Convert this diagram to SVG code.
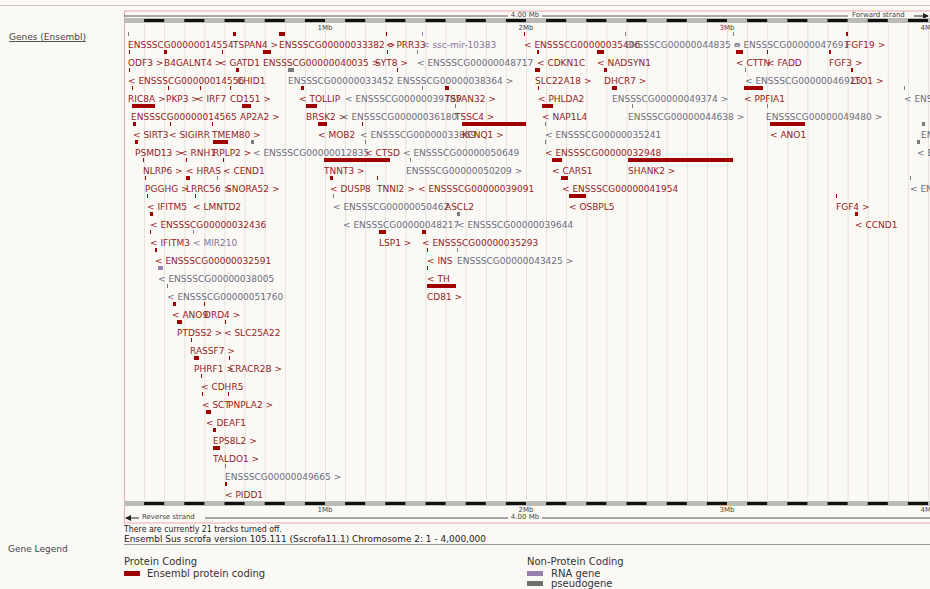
<svg xmlns="http://www.w3.org/2000/svg" width="930" height="589" viewBox="0 0 930 589">
<defs>
<style>
text{font-family:"DejaVu Sans","Liberation Sans",sans-serif;font-size:9px}
.p{fill:#952222}.n{fill:#6c6c7c}.r{fill:#857399}
.fp{fill:#a00000}.fn{fill:#7a7a7a}.fr{fill:#9a80b0}
.sm{font-size:7px;fill:#444}
.lg{font-size:10px;fill:#333}
.ft{font-size:8.5px;fill:#222}
</style>
<pattern id="grid" x="124" y="0" width="20.1" height="20" patternUnits="userSpaceOnUse">
<rect x="0" y="0" width="0.8" height="20" fill="#e1ddd7"/>
</pattern>
<marker id="ar" markerWidth="6" markerHeight="6" refX="5" refY="3" orient="auto" markerUnits="userSpaceOnUse">
<path d="M0,0 L6,3 L0,6 z" fill="#222"/>
</marker>
</defs>
<rect x="0" y="0" width="930" height="589" fill="#fbf9f5"/>
<line x1="0" y1="5.5" x2="930" y2="5.5" stroke="#c9c6c2" stroke-width="1"/>
<text x="9" y="40" font-size="9.5px" fill="#444" text-decoration="underline">Genes (Ensembl)</text>

<g id="panel">
<rect x="124" y="24" width="806" height="476" fill="url(#grid)"/>
<line x1="124" y1="11" x2="930" y2="11" stroke="#eaa9ad" stroke-width="1"/>
<line x1="124.5" y1="11" x2="124.5" y2="523" stroke="#eaa9ad" stroke-width="1"/>
<line x1="124" y1="523" x2="930" y2="523" stroke="#eaa9ad" stroke-width="1"/>
</g>

<g id="ruler-top">
<line x1="124" y1="16" x2="508" y2="16" stroke="#555" stroke-width="1"/>
<text x="525" y="17" class="sm" text-anchor="middle">4.00 Mb</text>
<line x1="542" y1="16" x2="848" y2="16" stroke="#555" stroke-width="1"/>
<text x="852" y="17" class="sm">Forward strand</text>
<line x1="914" y1="16" x2="928" y2="16" stroke="#222" stroke-width="1" marker-end="url(#ar)"/>
<rect x="124" y="18" width="806" height="5" fill="#bdbbb8"/>
<line x1="124" y1="20.5" x2="930" y2="20.5" stroke="#111" stroke-width="3" stroke-dasharray="20.1" stroke-dashoffset="20.1"/>
<text x="325" y="30" class="sm" text-anchor="middle">1Mb</text>
<text x="526" y="30" class="sm" text-anchor="middle">2Mb</text>
<text x="727" y="30" class="sm" text-anchor="middle">3Mb</text>
<text x="928" y="30" class="sm" text-anchor="middle">4Mb</text>
</g>

<g id="features">
<!-- row 0 m=32 -->
<rect class="fn" x="128" y="32" width="1" height="4"/><rect class="fp" x="233" y="32" width="3" height="4"/><rect class="fp" x="279" y="32" width="6" height="4"/><rect class="fp" x="386" y="32" width="1" height="4"/><rect class="fr" x="422" y="32" width="1" height="4"/><rect class="fp" x="524" y="32" width="1" height="4"/><rect class="fn" x="625" y="32" width="1" height="4"/><rect class="fn" x="733" y="32" width="1" height="4"/><rect class="fp" x="846" y="32" width="2" height="4"/>
<!-- row 1 m=50 -->
<rect class="fp" x="129" y="50" width="1" height="4"/><rect class="fp" x="164" y="50" width="3" height="4"/><rect class="fp" x="222" y="50" width="1" height="4"/><rect class="fp" x="263" y="50" width="8" height="4"/><rect class="fp" x="387" y="50" width="1" height="4"/><rect class="fn" x="417" y="50" width="1" height="4"/><rect class="fp" x="537" y="50" width="2" height="4"/><rect class="fp" x="597" y="50" width="7" height="4"/><rect class="fp" x="736" y="50" width="7" height="4"/><rect class="fp" x="767" y="50" width="1" height="4"/><rect class="fp" x="829" y="50" width="2" height="4"/>
<!-- row 2 m=68 -->
<rect class="fp" x="129" y="68" width="1" height="4"/><rect class="fp" x="236" y="68" width="3" height="4"/><rect class="fn" x="288" y="68" width="6" height="4"/><rect class="fp" x="397" y="68" width="1" height="4"/><rect class="fp" x="535" y="68" width="5" height="4"/><rect class="fp" x="604" y="68" width="3" height="4"/><rect class="fn" x="745" y="68" width="1" height="4"/><rect class="fp" x="851" y="68" width="2" height="4"/>
<!-- row 3 m=86 -->
<rect class="fp" x="132" y="86" width="1" height="4"/><rect class="fp" x="168" y="86" width="1" height="4"/><rect class="fp" x="200" y="86" width="1" height="4"/><rect class="fp" x="230" y="86" width="1" height="4"/><rect class="fp" x="301" y="86" width="3" height="4"/><rect class="fn" x="422" y="86" width="1" height="4"/><rect class="fp" x="445" y="86" width="4" height="4"/><rect class="fp" x="538" y="86" width="1" height="4"/><rect class="fp" x="612" y="86" width="5" height="4"/><rect class="fp" x="744" y="86" width="19" height="4"/><rect class="fn" x="904" y="86" width="1" height="4"/>
<!-- row 4 m=104 -->
<rect class="fp" x="132" y="104" width="23" height="4"/><rect class="fp" x="242" y="104" width="9" height="4"/><rect class="fp" x="306" y="104" width="11" height="4"/><rect class="fn" x="455" y="104" width="1" height="4"/><rect class="fp" x="542" y="104" width="11" height="4"/><rect class="fn" x="632" y="104" width="1" height="4"/><rect class="fn" x="767" y="104" width="1" height="4"/>
<!-- row 5 m=122 -->
<rect class="fp" x="133" y="122" width="3" height="4"/><rect class="fp" x="170" y="122" width="1" height="4"/><rect class="fp" x="212" y="122" width="1" height="4"/><rect class="fp" x="318" y="122" width="9" height="4"/><rect class="fp" x="362" y="122" width="1" height="4"/><rect class="fp" x="462" y="122" width="64" height="4"/><rect class="fn" x="545" y="122" width="1" height="4"/><rect class="fp" x="770" y="122" width="35" height="4"/><rect class="fn" x="922" y="122" width="3" height="4"/>
<!-- row 6 m=140 -->
<rect class="fp" x="135" y="140" width="3" height="4"/><rect class="fp" x="213" y="140" width="15" height="4"/><rect class="fn" x="251" y="140" width="3" height="4"/><rect class="fn" x="365" y="140" width="1" height="4"/><rect class="fn" x="545" y="140" width="1" height="4"/><rect class="fn" x="917" y="140" width="3" height="4"/>
<!-- row 7 m=158 -->
<rect class="fp" x="143" y="158" width="1" height="4"/><rect class="fp" x="186" y="158" width="1" height="4"/><rect class="fp" x="223" y="158" width="1" height="4"/><rect class="fp" x="324" y="158" width="66" height="4"/><rect class="fn" x="410" y="158" width="1" height="4"/><rect class="fp" x="552" y="158" width="10" height="4"/><rect class="fp" x="628" y="158" width="105" height="4"/>
<!-- row 8 m=176 -->
<rect class="fp" x="145" y="176" width="1" height="4"/><rect class="fp" x="186" y="176" width="4" height="4"/><rect class="fn" x="217" y="176" width="1" height="4"/><rect class="fp" x="330" y="176" width="3" height="4"/><rect class="fp" x="377" y="176" width="1" height="4"/><rect class="fp" x="561" y="176" width="7" height="4"/><rect class="fn" x="910" y="176" width="1" height="4"/>
<!-- row 9 m=194 -->
<rect class="fp" x="147" y="194" width="1" height="4"/><rect class="fp" x="195" y="194" width="1" height="4"/><rect class="fn" x="333" y="194" width="1" height="4"/><rect class="fp" x="569" y="194" width="17" height="4"/><rect class="fp" x="836" y="194" width="1" height="4"/>
<!-- row 10 m=212 -->
<rect class="fp" x="150" y="212" width="3" height="4"/><rect class="fn" x="457" y="212" width="3" height="4"/><rect class="fp" x="855" y="212" width="3" height="4"/>
<!-- row 11 m=230 -->
<rect class="fp" x="150" y="230" width="1" height="4"/><rect class="fr" x="193" y="230" width="1" height="4"/><rect class="fp" x="379" y="230" width="7" height="4"/><rect class="fp" x="422" y="230" width="4" height="4"/>
<!-- row 12 m=248 -->
<rect class="fp" x="155" y="248" width="2" height="4"/><rect class="fp" x="427" y="248" width="1" height="4"/><rect class="fn" x="457" y="248" width="1" height="4"/>
<!-- row 13 m=266 -->
<rect class="fr" x="158" y="266" width="5" height="4"/><rect class="fp" x="427" y="266" width="1" height="4"/>
<!-- row 14 m=284 -->
<rect class="fn" x="167" y="284" width="1" height="4"/><rect class="fp" x="427" y="284" width="29" height="4"/>
<!-- rows 15-25 -->
<rect class="fp" x="173" y="302" width="3" height="4"/><rect class="fp" x="204" y="302" width="1" height="4"/>
<rect class="fp" x="177" y="320" width="5" height="4"/><rect class="fp" x="225" y="320" width="1" height="4"/>
<rect class="fp" x="191" y="338" width="1" height="4"/>
<rect class="fp" x="194" y="356" width="5" height="4"/><rect class="fp" x="229" y="356" width="1" height="4"/>
<rect class="fp" x="201" y="374" width="1" height="4"/>
<rect class="fp" x="202" y="392" width="1" height="4"/><rect class="fp" x="228" y="392" width="1" height="4"/>
<rect class="fp" x="206" y="410" width="5" height="4"/>
<rect class="fp" x="213" y="428" width="3" height="4"/>
<rect class="fp" x="213" y="446" width="7" height="4"/>
<rect class="fn" x="225" y="464" width="1" height="4"/>
<rect class="fp" x="225" y="482" width="2" height="4"/>
</g>

<g id="labels">
<text x="128" y="48" class="p">ENSSSCG00000014554</text><text x="233" y="48" class="p">TSPAN4 &gt;</text><text x="279" y="48" class="p">ENSSSCG00000033382 &gt;</text><text x="386" y="48" class="p">&lt; PRR33</text><text x="422" y="48" class="r">&lt; ssc-mir-10383</text><text x="524" y="48" class="p">&lt; ENSSSCG00000035406</text><text x="625" y="48" class="n">ENSSSCG00000044835 &gt;</text><text x="733" y="48" class="n">&lt; ENSSSCG00000047691</text><text x="846" y="48" class="p">FGF19 &gt;</text>

<text x="128" y="66" class="p">ODF3 &gt;</text><text x="164" y="66" class="p">B4GALNT4 &gt;</text><text x="219" y="66" class="p">&lt; GATD1</text><text x="263" y="66" class="p">ENSSSCG00000040035 &gt;</text><text x="375" y="66" class="p">SYT8 &gt;</text><text x="417" y="66" class="n">&lt; ENSSSCG00000048717</text><text x="537" y="66" class="p">&lt; CDKN1C</text><text x="597" y="66" class="p">&lt; NADSYN1</text><text x="736" y="66" class="p">&lt; CTTN</text><text x="767" y="66" class="p">&lt; FADD</text><text x="829" y="66" class="p">FGF3 &gt;</text>

<text x="128" y="84" class="p">&lt; ENSSSCG00000014556</text><text x="237" y="84" class="p">CHID1</text><text x="288" y="84" class="n">ENSSSCG00000033452</text><text x="397" y="84" class="n">ENSSSCG00000038364 &gt;</text><text x="535" y="84" class="p">SLC22A18 &gt;</text><text x="604" y="84" class="p">DHCR7 &gt;</text><text x="745" y="84" class="n">&lt; ENSSSCG00000046925</text><text x="851" y="84" class="p">LTO1 &gt;</text>

<text x="128" y="102" class="p">RIC8A &gt;</text><text x="166" y="102" class="p">PKP3 &gt;</text><text x="196" y="102" class="p">&lt; IRF7</text><text x="230" y="102" class="p">CD151 &gt;</text><text x="299" y="102" class="p">&lt; TOLLIP</text><text x="345" y="102" class="n">&lt; ENSSSCG00000039785</text><text x="445" y="102" class="p">TSPAN32 &gt;</text><text x="538" y="102" class="p">&lt; PHLDA2</text><text x="612" y="102" class="n">ENSSSCG00000049374 &gt;</text><text x="744" y="102" class="p">&lt; PPFIA1</text><text x="904" y="102" class="n">&lt; ENSSSCG00000</text>

<text x="131" y="120" class="p">ENSSSCG00000014565</text><text x="240" y="120" class="p">AP2A2 &gt;</text><text x="306" y="120" class="p">BRSK2 &gt;</text><text x="341" y="120" class="n">&lt; ENSSSCG00000036180</text><text x="455" y="120" class="p">TSSC4 &gt;</text><text x="542" y="120" class="p">&lt; NAP1L4</text><text x="628" y="120" class="n">ENSSSCG00000044638 &gt;</text><text x="766" y="120" class="n">ENSSSCG00000049480 &gt;</text>

<text x="133" y="138" class="p">&lt; SIRT3</text><text x="169" y="138" class="p">&lt; SIGIRR</text><text x="212" y="138" class="p">TMEM80 &gt;</text><text x="318" y="138" class="p">&lt; MOB2</text><text x="360" y="138" class="n">&lt; ENSSSCG00000033869</text><text x="462" y="138" class="p">KCNQ1 &gt;</text><text x="545" y="138" class="n">&lt; ENSSSCG00000035241</text><text x="770" y="138" class="p">&lt; ANO1</text><text x="921" y="138" class="n">ENSSSCG</text>

<text x="135" y="156" class="p">PSMD13 &gt;</text><text x="180" y="156" class="p">&lt; RNH1</text><text x="213" y="156" class="p">RPLP2 &gt;</text><text x="253" y="156" class="n">&lt; ENSSSCG00000012835</text><text x="365" y="156" class="p">&lt; CTSD</text><text x="403" y="156" class="n">&lt; ENSSSCG00000050649</text><text x="545" y="156" class="p">&lt; ENSSSCG00000032948</text><text x="917" y="156" class="n">&lt; ENSSSCG</text>

<text x="143" y="174" class="p">NLRP6 &gt;</text><text x="186" y="174" class="p">&lt; HRAS</text><text x="223" y="174" class="p">&lt; CEND1</text><text x="324" y="174" class="p">TNNT3 &gt;</text><text x="406" y="174" class="n">ENSSSCG00000050209 &gt;</text><text x="552" y="174" class="p">&lt; CARS1</text><text x="628" y="174" class="p">SHANK2 &gt;</text>

<text x="145" y="192" class="p">PGGHG &gt;</text><text x="186" y="192" class="p">LRRC56 &gt;</text><text x="226" y="192" class="p">SNORA52 &gt;</text><text x="330" y="192" class="p">&lt; DUSP8</text><text x="377" y="192" class="p">TNNI2 &gt;</text><text x="418" y="192" class="p">&lt; ENSSSCG00000039091</text><text x="562" y="192" class="p">&lt; ENSSSCG00000041954</text><text x="910" y="192" class="n">&lt; ENSSSCG</text>

<text x="147" y="210" class="p">&lt; IFITM5</text><text x="193" y="210" class="p">&lt; LMNTD2</text><text x="333" y="210" class="n">&lt; ENSSSCG00000050462</text><text x="445" y="210" class="p">ASCL2</text><text x="569" y="210" class="p">&lt; OSBPL5</text><text x="836" y="210" class="p">FGF4 &gt;</text>

<text x="150" y="228" class="p">&lt; ENSSSCG00000032436</text><text x="343" y="228" class="n">&lt; ENSSSCG00000048217</text><text x="457" y="228" class="n">&lt; ENSSSCG00000039644</text><text x="855" y="228" class="p">&lt; CCND1</text>

<text x="150" y="246" class="p">&lt; IFITM3</text><text x="193" y="246" class="r">&lt; MIR210</text><text x="379" y="246" class="p">LSP1 &gt;</text><text x="422" y="246" class="p">&lt; ENSSSCG00000035293</text>

<text x="155" y="264" class="p">&lt; ENSSSCG00000032591</text><text x="427" y="264" class="p">&lt; INS</text><text x="457" y="264" class="n">ENSSSCG00000043425 &gt;</text>

<text x="158" y="282" class="n">&lt; ENSSSCG00000038005</text><text x="427" y="282" class="p">&lt; TH</text>

<text x="167" y="300" class="n">&lt; ENSSSCG00000051760</text><text x="427" y="300" class="p">CD81 &gt;</text>

<text x="172" y="318" class="p">&lt; ANO9</text><text x="204" y="318" class="p">DRD4 &gt;</text>
<text x="177" y="336" class="p">PTDSS2 &gt;</text><text x="224" y="336" class="p">&lt; SLC25A22</text>
<text x="190" y="354" class="p">RASSF7 &gt;</text>
<text x="194" y="372" class="p">PHRF1 &gt;</text><text x="229" y="372" class="p">CRACR2B &gt;</text>
<text x="201" y="390" class="p">&lt; CDHR5</text>
<text x="202" y="408" class="p">&lt; SCT</text><text x="228" y="408" class="p">PNPLA2 &gt;</text>
<text x="206" y="426" class="p">&lt; DEAF1</text>
<text x="213" y="444" class="p">EPS8L2 &gt;</text>
<text x="213" y="462" class="p">TALDO1 &gt;</text>
<text x="225" y="480" class="n">ENSSSCG00000049665 &gt;</text>
<text x="225" y="498" class="p">&lt; PIDD1</text>
</g>

<g id="ruler-bottom">
<rect x="124" y="501" width="806" height="5" fill="#bdbbb8"/>
<line x1="124" y1="503.5" x2="930" y2="503.5" stroke="#111" stroke-width="3" stroke-dasharray="20.1" stroke-dashoffset="20.1"/>
<text x="325" y="512" class="sm" text-anchor="middle">1Mb</text>
<text x="526" y="512" class="sm" text-anchor="middle">2Mb</text>
<text x="727" y="512" class="sm" text-anchor="middle">3Mb</text>
<text x="928" y="512" class="sm" text-anchor="middle">4Mb</text>
<line x1="139" y1="518" x2="126" y2="518" stroke="#222" stroke-width="1" marker-end="url(#ar)"/>
<text x="142" y="519" class="sm">Reverse strand</text>
<line x1="205" y1="518" x2="508" y2="518" stroke="#555" stroke-width="1"/>
<text x="525" y="519" class="sm" text-anchor="middle">4.00 Mb</text>
<line x1="542" y1="518" x2="930" y2="518" stroke="#555" stroke-width="1"/>
</g>

<g id="footer">
<text x="124" y="532" class="ft" textLength="158" lengthAdjust="spacingAndGlyphs">There are currently 21 tracks turned off.</text>
<text x="124" y="542" class="ft" textLength="362" lengthAdjust="spacingAndGlyphs">Ensembl Sus scrofa version 105.111 (Sscrofa11.1) Chromosome 2: 1 - 4,000,000</text>
<line x1="124" y1="544.5" x2="930" y2="544.5" stroke="#999" stroke-width="1"/>
</g>

<g id="legend">
<text x="8" y="552" font-size="9.5px" fill="#444">Gene Legend</text>
<text x="124" y="565" class="lg">Protein Coding</text>
<rect x="124" y="571" width="16" height="5" fill="#a00000"/>
<text x="147" y="577" class="lg">Ensembl protein coding</text>
<text x="527" y="565" class="lg">Non-Protein Coding</text>
<rect x="527" y="571" width="16" height="5" fill="#9a80b0"/>
<text x="551" y="577" class="lg">RNA gene</text>
<rect x="527" y="581" width="16" height="5" fill="#6f6f6f"/>
<text x="551" y="587" class="lg">pseudogene</text>
</g>
</svg>
